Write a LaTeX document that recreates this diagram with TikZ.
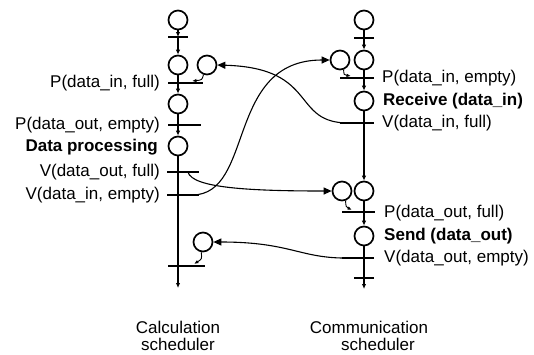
\documentclass[tikz,border=0pt]{standalone}
\usepackage{fontspec}
\setmainfont{Liberation Sans}
\usetikzlibrary{arrows.meta}
\begin{document}
\begin{tikzpicture}[x=1pt,y=-1pt,
  place/.style={circle,draw,line width=1.7pt,minimum size=19pt,inner sep=0pt},
  colline/.style={line width=1.8pt},
  bar/.style={line width=2.4pt},
  flow/.style={line width=1.8pt,-{Latex[length=5pt,width=4.5pt]}},
  link/.style={line width=1.1pt,-{Triangle[length=8pt,width=7pt]}},
  tick/.style={line width=0.9pt,-{Latex[length=4.5pt,width=3.5pt]}},
  lbl/.style={inner sep=0pt,font=\fontsize{17}{18}\selectfont},
  bold/.style={lbl,font=\fontsize{17}{18}\selectfont\bfseries}
]
\useasboundingbox (0,0) rectangle (534,354);

% ---------- left column (calculation scheduler)
\node[place] (c1) at (178,20) {};
\node[place] (c2) at (178,65) {};
\node[place] (s1) at (207,65) {};
\node[place] (c3) at (178,104) {};
\node[place] (c4) at (178,146) {};
\node[place] (s3) at (203,242) {};
\coordinate (t1) at (178,37);
\coordinate (t2) at (178,83);
\coordinate (t3) at (178,125);
\coordinate (t4) at (178,172);
\coordinate (t5) at (178,195);
\coordinate (t6) at (178,266);
\coordinate (lend) at (178,288);

% ---------- right column (communication scheduler)
\node[place] (r1) at (364,20) {};
\node[place] (r2) at (364,60) {};
\node[place] (s2) at (340,60) {};
\node[place] (r3) at (364,101) {};
\node[place] (r4) at (364,191) {};
\node[place] (s4) at (342,191) {};
\node[place] (r5) at (364,236) {};
\coordinate (u1) at (364,38);
\coordinate (u2) at (364,78);
\coordinate (u3) at (364,123);
\coordinate (u4) at (364,212);
\coordinate (u5) at (364,258);
\coordinate (u6) at (364,278);
\coordinate (rend) at (364,289);

% column flow
\draw[flow] (c1) -- (t1);
\draw[flow] (t1) -- (c2);
\draw[colline] (c2) -- (t2);
\draw[flow] (t2) -- (c3);
\draw[colline] (c3) -- (t3);
\draw[flow] (t3) -- (c4);
\draw[colline] (c4) -- (t6);
\draw[flow] (t6) -- (lend);

\draw[colline] (r1) -- (u1);
\draw[flow] (u1) -- (r2);
\draw[colline] (r2) -- (u2);
\draw[flow] (u2) -- (r3);
\draw[colline] (r3) -- (u3);
\draw[flow] (u3) -- (r4);
\draw[colline] (r4) -- (u4);
\draw[flow] (u4) -- (r5);
\draw[colline] (r5) -- (u6);
\draw[flow] (u6) -- (rend);

% transition bars
\draw[bar] ([xshift=-10pt]t1) -- ([xshift=10pt]t1);
\draw[bar] ([xshift=-10pt]t2) -- ([xshift=25pt]t2);
\draw[bar] ([xshift=-10pt]t3) -- ([xshift=23pt]t3);
\draw[bar] ([xshift=-11pt]t4) -- ([xshift=21pt]t4);
\draw[bar] ([xshift=-11pt]t5) -- ([xshift=21pt]t5);
\draw[bar] ([xshift=-10pt]t6) -- ([xshift=27pt]t6);
\draw[bar] ([xshift=-10pt]u1) -- ([xshift=10pt]u1);
\draw[bar] ([xshift=-24pt]u2) -- ([xshift=10pt]u2);
\draw[bar] ([xshift=-24pt]u3) -- ([xshift=10pt]u3);
\draw[bar] ([xshift=-22pt]u4) -- ([xshift=11pt]u4);
\draw[bar] ([xshift=-22pt]u5) -- ([xshift=10pt]u5);
\draw[bar] ([xshift=-10pt]u6) -- ([xshift=10pt]u6);

% short arcs from side places to their transitions
\coordinate (t2a) at (192,81);
\coordinate (u2a) at (351,76);
\coordinate (u4a) at (352,210);
\coordinate (t6a) at (194,264);
\draw[tick] (s1.250) .. controls (202,80) .. (t2a);
\draw[tick] (s2.290) .. controls (344,75) .. (u2a);
\draw[tick] (s4.290) .. controls (346,207) .. (u4a);
\draw[tick] (s3.260) .. controls (202,259) .. (t6a);

% long connectors between the schedulers
\coordinate (u3l) at (350,123);
\coordinate (t5r) at (192,195);
\coordinate (t4r) at (188,172);
\coordinate (u5l) at (350,258);
\draw[link] (u3l) .. controls (290,124) and (320,68) .. (s1.east);
\draw[link] (t5r) .. controls (255,195) and (225,60) .. (s2.west);
\draw[link] (t4r) .. controls (192,188) and (250,191) .. (s4.west);
\draw[link] (u5l) .. controls (300,259) and (292,242) .. (s3.east);

% labels left
\node[lbl,anchor=east] (l1) at (160,83) {P(data\_in, full)};
\node[lbl,anchor=east] (l2) at (160,125) {P(data\_out, empty)};
\node[bold,anchor=east] (l3) at (158,147) {Data processing};
\node[lbl,anchor=east] (l4) at (160,172) {V(data\_out, full)};
\node[lbl,anchor=east] (l5) at (160,195) {V(data\_in, empty)};

% labels right
\node[lbl,anchor=west] (m1) at (382,78) {P(data\_in, empty)};
\node[bold,anchor=west] (m2) at (383,101) {Receive (data\_in)};
\node[lbl,anchor=west] (m3) at (382,123) {V(data\_in, full)};
\node[lbl,anchor=west] (m4) at (384,213) {P(data\_out, full)};
\node[bold,anchor=west] (m5) at (384,236) {Send (data\_out)};
\node[lbl,anchor=west] (m6) at (384,258) {V(data\_out, empty)};

% captions
\node[lbl,anchor=base] (cap1) at (178,333) {Calculation};
\node[lbl,anchor=base] (cap2) at (178,350) {scheduler};
\node[lbl,anchor=base] (cap3) at (369,333) {Communication};
\node[lbl,anchor=base] (cap4) at (378,350) {scheduler};
\end{tikzpicture}
\end{document}
